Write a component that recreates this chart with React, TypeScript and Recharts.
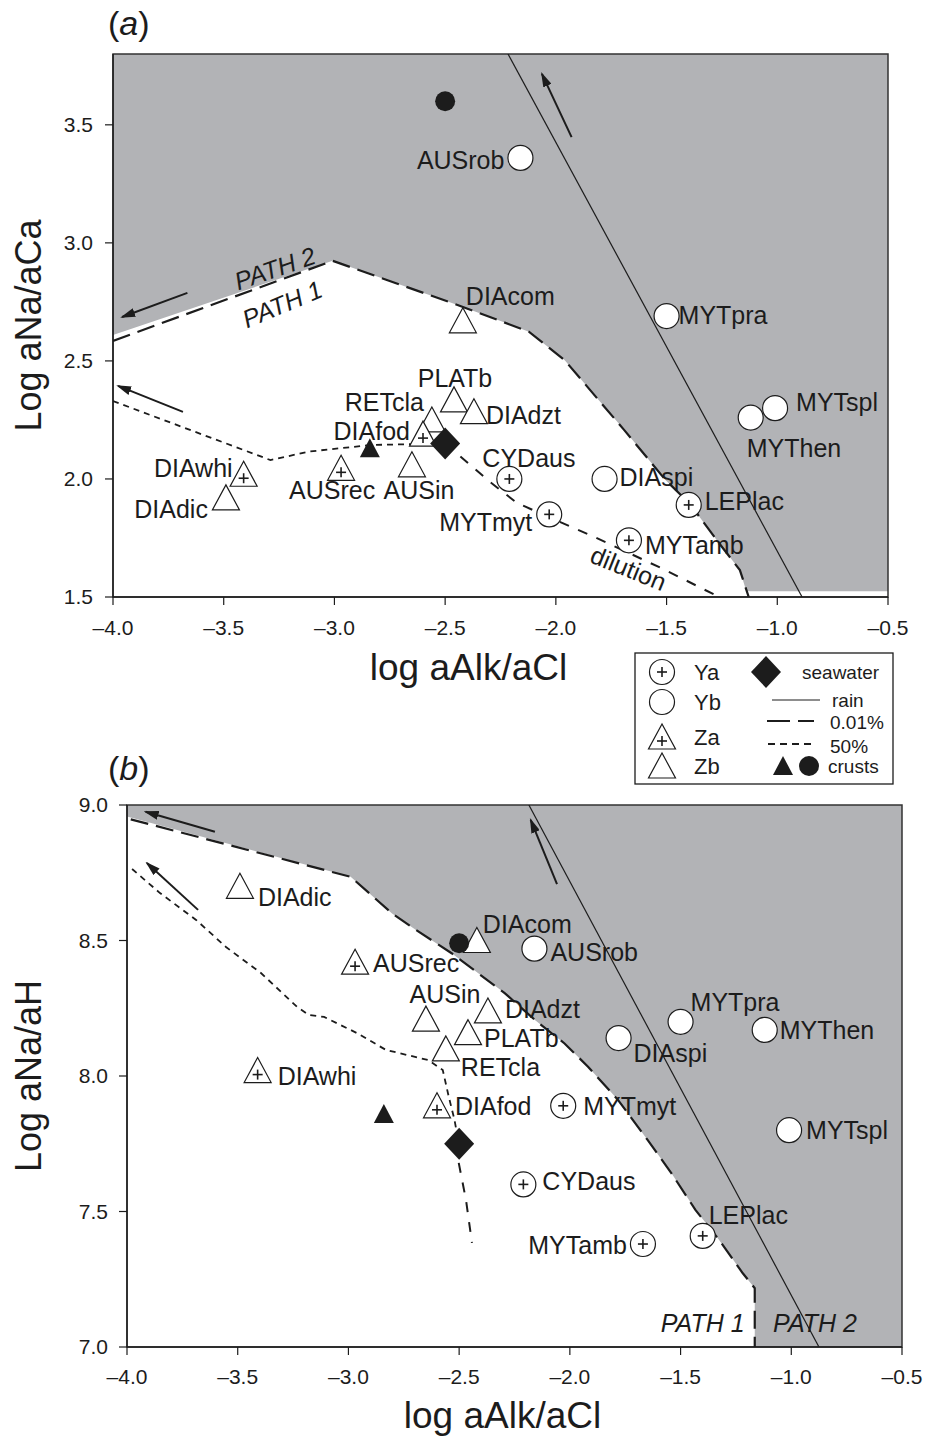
import React from 'react';
import { ComposedChart, XAxis, YAxis, Area, Line, Scatter, ReferenceArea, Label } from 'recharts';

const FONT = '"Liberation Sans", Arial, Helvetica, sans-serif';
const INK = '#1c1c1c';
const GREY = '#b2b3b6';

type Pair = [number, number];

// ---- shared axis ----
const xTicks = [-4, -3.5, -3, -2.5, -2, -1.5, -1, -0.5];
const xTickLabels = ['–4.0', '–3.5', '–3.0', '–2.5', '–2.0', '–1.5', '–1.0', '–0.5'];
const yTicksA = [1.5, 2.0, 2.5, 3.0, 3.5];
const yTickLabelsA = ['1.5', '2.0', '2.5', '3.0', '3.5'];
const yTicksB = [7.0, 7.5, 8.0, 8.5, 9.0];
const yTickLabelsB = ['7.0', '7.5', '8.0', '8.5', '9.0'];

// ---- sites ----
const sites = ['AUSrob', 'DIAcom', 'MYTpra', 'MYTspl', 'MYThen', 'PLATb', 'DIAdzt', 'RETcla', 'DIAfod',
  'AUSrec', 'AUSin', 'DIAwhi', 'DIAdic', 'CYDaus', 'MYTmyt', 'DIAspi', 'LEPlac', 'MYTamb'];
const siteGroup = ['Yb', 'Zb', 'Yb', 'Yb', 'Yb', 'Zb', 'Zb', 'Zb', 'Za',
  'Za', 'Zb', 'Za', 'Zb', 'Ya', 'Ya', 'Yb', 'Ya', 'Ya'];
const alkCl = [-2.16, -2.42, -1.50, -1.01, -1.12, -2.46, -2.37, -2.56, -2.60,
  -2.97, -2.65, -3.41, -3.49, -2.21, -2.03, -1.78, -1.40, -1.67];
const naCa = [3.36, 2.67, 2.69, 2.30, 2.26, 2.335, 2.285, 2.25, 2.19,
  2.045, 2.06, 2.02, 1.92, 2.00, 1.85, 2.00, 1.89, 1.74];
const naH = [8.47, 8.50, 8.20, 7.80, 8.17, 8.16, 8.24, 8.10, 7.89,
  8.42, 8.21, 8.02, 8.70, 7.60, 7.89, 8.14, 7.41, 7.38];

// seawater and crusts
const refKinds = ['sea', 'crustTri', 'crustDot'];
const refAlk = [-2.50, -2.84, -2.50];
const refNaCa = [2.15, 2.13, 3.60];
const refNaH = [7.75, 7.86, 8.49];

// ---- panel a curves ----
const rainA: Pair[] = [[-2.216, 3.8], [-0.888, 1.5]];
const path1A: Pair[] = [[-4.0, 2.585], [-3.008, 2.924], [-2.444, 2.737], [-2.122, 2.624], [-1.961, 2.504],
  [-1.692, 2.208], [-1.505, 1.996], [-1.397, 1.897], [-1.263, 1.728], [-1.169, 1.614], [-1.129, 1.5]];
const greyEdgeA: Pair[] = [[-4.0, 2.61], [-3.008, 2.924], [-2.444, 2.737], [-2.122, 2.624], [-1.961, 2.504],
  [-1.692, 2.208], [-1.505, 1.996], [-1.397, 1.897], [-1.263, 1.728], [-1.169, 1.614], [-1.14, 1.524], [-0.5, 1.524]];
const mix50A: Pair[] = [[-4.0, 2.33], [-3.289, 2.08], [-3.115, 2.116], [-2.833, 2.144], [-2.50, 2.15]];
const dilutionA: Pair[] = [[-2.50, 2.15], [-2.397, 2.068], [-2.297, 1.987], [-2.175, 1.898], [-2.035, 1.84],
  [-1.827, 1.755], [-1.505, 1.614], [-1.263, 1.5]];
const arrowsA: Pair[][] = [
  [[-3.664, 2.788], [-3.959, 2.686]],
  [[-3.684, 2.284], [-3.977, 2.394]],
  [[-1.929, 3.448], [-2.063, 3.716]],
];
const notesA = ['PATH 2', 'PATH 1', 'dilution'];
const noteAlkA = [-3.269, -3.236, -1.672];
const noteYA = [2.893, 2.741, 1.622];

// ---- panel b curves ----
const rainB: Pair[] = [[-2.185, 9.0], [-0.875, 7.0]];
const path1B: Pair[] = [[-3.983, 8.947], [-2.99, 8.735], [-2.803, 8.60], [-2.695, 8.539], [-2.534, 8.453],
  [-2.293, 8.305], [-2.158, 8.207], [-2.024, 8.12], [-1.918, 8.034], [-1.782, 7.911], [-1.649, 7.764],
  [-1.541, 7.641], [-1.433, 7.506], [-1.326, 7.395], [-1.219, 7.272], [-1.165, 7.217], [-1.165, 7.0]];
const greyEdgeB: Pair[] = [[-4.0, 8.958], [-2.99, 8.735], [-2.803, 8.60], [-2.695, 8.539], [-2.534, 8.453],
  [-2.293, 8.305], [-2.158, 8.207], [-2.024, 8.12], [-1.918, 8.034], [-1.782, 7.911], [-1.649, 7.764],
  [-1.541, 7.641], [-1.433, 7.506], [-1.326, 7.395], [-1.219, 7.272], [-1.165, 7.217], [-1.165, 7.0], [-0.5, 7.0]];
const mix50B: Pair[] = [[-3.977, 8.764], [-3.851, 8.675], [-3.688, 8.576], [-3.553, 8.476], [-3.395, 8.38],
  [-3.232, 8.255], [-3.178, 8.225], [-3.11, 8.218], [-2.963, 8.159], [-2.83, 8.096], [-2.64, 8.059],
  [-2.574, 8.022], [-2.547, 7.924], [-2.521, 7.838], [-2.502, 7.753]];
const dilutionB: Pair[] = [[-2.502, 7.753], [-2.502, 7.68], [-2.469, 7.542], [-2.442, 7.384]];
const arrowsB: Pair[][] = [
  [[-3.603, 8.901], [-3.916, 8.975]],
  [[-3.679, 8.613], [-3.91, 8.786]],
  [[-2.058, 8.708], [-2.177, 8.945]],
];
const notesB = ['PATH 1', 'PATH 2'];
const noteAlkB = [-1.40, -0.893];
const noteYB = [7.09, 7.09];

// label placement next to each marker: [dx, dy, anchor]
type Place = [number, number, 'start' | 'middle' | 'end'];
const placeA: Record<string, Place> = {
  AUSrob: [-16, 2, 'end'], DIAcom: [3, -25, 'start'], MYTpra: [12, -1, 'start'],
  MYTspl: [21, -6, 'start'], MYThen: [-4, 30, 'start'], PLATb: [1, -22, 'middle'],
  DIAdzt: [12, 3, 'start'], RETcla: [-8, -18, 'end'], DIAfod: [-13, -3, 'end'],
  AUSrec: [-9, 22, 'middle'], AUSin: [7, 25, 'middle'], DIAwhi: [-11, -6, 'end'],
  DIAdic: [-18, 11, 'end'], CYDaus: [-27, -21, 'start'], MYTmyt: [-17, 8, 'end'],
  DIAspi: [15, -2, 'start'], LEPlac: [16, -4, 'start'], MYTamb: [16, 5, 'start'],
};
const placeB: Record<string, Place> = {
  DIAdic: [18, 11, 'start'], DIAcom: [6, -17, 'start'], AUSrob: [16, 3, 'start'],
  AUSrec: [18, 1, 'start'], AUSin: [19, -25, 'middle'], DIAdzt: [17, -2, 'start'],
  PLATb: [16, 5, 'start'], RETcla: [15, 18, 'start'], DIAspi: [15, 15, 'start'],
  MYTpra: [10, -20, 'start'], MYThen: [15, 0, 'start'], DIAwhi: [20, 5, 'start'],
  DIAfod: [18, 0, 'start'], MYTmyt: [20, 0, 'start'], MYTspl: [17, 0, 'start'],
  CYDaus: [19, -3, 'start'], LEPlac: [6, -21, 'start'], MYTamb: [-16, 1, 'end'],
};
const noteTiltA = [-19.2, -22.9, 22];
const noteItalicA = [true, true, false];

const toXY = (pairs: Pair[]) => pairs.map(([x, y]) => ({ x, y }));

function Glyph({ kind, cx, cy }: { kind: string; cx: number; cy: number }) {
  const sw = 1.2;
  const plus = (px: number, py: number) => (
    <g stroke={INK} strokeWidth={1.6}>
      <line x1={px - 5} x2={px + 5} y1={py} y2={py} />
      <line x1={px} x2={px} y1={py - 5} y2={py + 5} />
    </g>
  );
  const tri = `${cx},${cy - 13} ${cx - 13.5},${cy + 12} ${cx + 13.5},${cy + 12}`;
  switch (kind) {
    case 'Ya':
      return <g><circle cx={cx} cy={cy} r={12.5} fill="#fff" stroke={INK} strokeWidth={sw} />{plus(cx, cy)}</g>;
    case 'Yb':
      return <circle cx={cx} cy={cy} r={12.5} fill="#fff" stroke={INK} strokeWidth={sw} />;
    case 'Za':
      return <g><polygon points={tri} fill="#fff" stroke={INK} strokeWidth={sw} />{plus(cx, cy + 4)}</g>;
    case 'Zb':
      return <polygon points={tri} fill="#fff" stroke={INK} strokeWidth={sw} />;
    case 'sea':
      return <polygon points={`${cx},${cy - 16} ${cx + 15},${cy} ${cx},${cy + 16} ${cx - 15},${cy}`} fill={INK} />;
    case 'crustTri':
      return <polygon points={`${cx},${cy - 10} ${cx - 10},${cy + 9} ${cx + 10},${cy + 9}`} fill={INK} />;
    case 'crustDot':
      return <circle cx={cx} cy={cy} r={10} fill={INK} />;
    default:
      return null;
  }
}

const siteShape = (place: Record<string, Place>) => (props: any) => {
  const { cx, cy, payload } = props;
  const [dx, dy, anchor] = place[payload.name];
  return (
    <g>
      <Glyph kind={payload.group} cx={cx} cy={cy} />
      <text x={cx + dx} y={cy + dy} textAnchor={anchor} dominantBaseline="central"
        fontSize={25} fill={INK} fontFamily={FONT}>{payload.name}</text>
    </g>
  );
};

const refShape = (props: any) => <Glyph kind={props.payload.kind} cx={props.cx} cy={props.cy} />;

const noteShape = (tilts: number[], italics: boolean[]) => (props: any) => {
  const { cx, cy, payload } = props;
  const t = tilts[payload.i] || 0;
  return (
    <text x={cx} y={cy} textAnchor="middle" dominantBaseline="central" fontSize={25}
      fontStyle={italics[payload.i] ? 'italic' : 'normal'} fill={INK} fontFamily={FONT}
      transform={`rotate(${t} ${cx} ${cy})`}>{payload.text}</text>
  );
};

type PanelProps = {
  height: number;
  margin: { top: number; right: number; bottom: number; left: number };
  yDomain: [number, number];
  yTicks: number[];
  yTickLabels: string[];
  yTitle: string;
  xTickMargin: number;
  yTickMargin: number;
  xTitleShift: number;
  xTitleDrop: number;
  yTitleShift: number;
  siteY: number[];
  refY: number[];
  rain: Pair[];
  path1: Pair[];
  greyEdge: Pair[];
  mix50: Pair[];
  dilution: Pair[];
  arrows: Pair[][];
  notes: string[];
  noteX: number[];
  noteY: number[];
  tilts: number[];
  italics: boolean[];
  place: Record<string, Place>;
};

function Panel(p: PanelProps) {
  const [y0, y1] = p.yDomain;
  const band = p.greyEdge.map(([x, low]) => ({ x, band: [low, y1] }));
  const pts = sites.map((name, i) => ({ name, group: siteGroup[i], x: alkCl[i], y: p.siteY[i] }));
  const refs = refKinds.map((kind, i) => ({ kind, x: refAlk[i], y: p.refY[i] }));
  const notes = p.notes.map((text, i) => ({ text, i, x: p.noteX[i], y: p.noteY[i] }));
  const tickStyle = { fontSize: 21, fill: INK, fontFamily: FONT };
  return (
    <ComposedChart width={929} height={p.height} margin={p.margin}>
      <XAxis type="number" dataKey="x" domain={[-4, -0.5]} ticks={xTicks} allowDataOverflow
        tickFormatter={(v: number) => xTickLabels[xTicks.indexOf(v)]} tickSize={8} tickMargin={p.xTickMargin}
        height={40} axisLine={{ stroke: INK, strokeWidth: 1.4 }} tickLine={{ stroke: INK, strokeWidth: 1.2 }}
        tick={tickStyle} interval={0}>
        <Label content={(lp: any) => {
          const vb = lp.viewBox;
          return (
            <text x={vb.x + vb.width / 2 + p.xTitleShift} y={vb.y + p.xTitleDrop} textAnchor="middle"
              fontSize={37} fill={INK} fontFamily={FONT}>log aAlk/aCl</text>
          );
        }} />
      </XAxis>
      <YAxis type="number" dataKey="y" domain={p.yDomain} ticks={p.yTicks} allowDataOverflow
        tickFormatter={(v: number) => p.yTickLabels[p.yTicks.indexOf(v)]} tickSize={8} tickMargin={p.yTickMargin}
        width={60} axisLine={{ stroke: INK, strokeWidth: 1.4 }} tickLine={{ stroke: INK, strokeWidth: 1.2 }}
        tick={tickStyle} interval={0}>
        <Label content={(lp: any) => {
          const vb = lp.viewBox;
          const tx = vb.x + p.yTitleShift;
          const ty = vb.y + vb.height / 2;
          return (
            <text x={tx} y={ty} textAnchor="middle" transform={`rotate(-90 ${tx} ${ty})`}
              fontSize={36} fill={INK} fontFamily={FONT}>{p.yTitle}</text>
          );
        }} />
      </YAxis>
      <Area data={band} dataKey="band" type="linear" stroke="none" fill={GREY} fillOpacity={1}
        isAnimationActive={false} dot={false} activeDot={false} />
      <ReferenceArea x1={-4} x2={-0.5} y1={y0} y2={y1} fill="none" stroke="#333" strokeWidth={1.5} />
      <Line data={toXY(p.rain)} dataKey="y" type="linear" stroke={INK} strokeWidth={1.2} dot={false}
        activeDot={false} isAnimationActive={false} />
      <Line data={toXY(p.path1)} dataKey="y" type="linear" stroke={INK} strokeWidth={2.2} strokeDasharray="18 8"
        dot={false} activeDot={false} isAnimationActive={false} />
      <Line data={toXY(p.mix50)} dataKey="y" type="linear" stroke={INK} strokeWidth={1.8} strokeDasharray="6 5"
        dot={false} activeDot={false} isAnimationActive={false} />
      <Line data={toXY(p.dilution)} dataKey="y" type="linear" stroke={INK} strokeWidth={2} strokeDasharray="10 10"
        dot={false} activeDot={false} isAnimationActive={false} />
      {p.arrows.map((a, i) => (
        <Line key={`arrow-${i}`} data={toXY(a)} dataKey="y" type="linear" stroke={INK} strokeWidth={2}
          markerEnd="url(#arrowHead)" dot={false} activeDot={false} isAnimationActive={false} />
      ))}
      <Scatter data={notes} shape={noteShape(p.tilts, p.italics)} isAnimationActive={false} />
      <Scatter data={pts} shape={siteShape(p.place)} isAnimationActive={false} />
      <Scatter data={refs} shape={refShape} isAnimationActive={false} />
    </ComposedChart>
  );
}

const keyGroups = ['Ya', 'Yb', 'Za', 'Zb'];

function KeyBox() {
  const rows = [19, 49, 84, 113];
  return (
    <g transform="translate(635,653)" fontFamily={FONT} fill={INK}>
      <rect x={0} y={0} width={258} height={131} fill="#fff" stroke={INK} strokeWidth={1.3} />
      {keyGroups.map((g, i) => (
        <g key={g}>
          <Glyph kind={g} cx={27} cy={rows[i]} />
          <text x={59} y={rows[i]} dominantBaseline="central" fontSize={22}>{g}</text>
        </g>
      ))}
      <Glyph kind="sea" cx={131} cy={19} />
      <text x={167} y={19} dominantBaseline="central" fontSize={19}>seawater</text>
      <line x1={137} x2={185} y1={47} y2={47} stroke={INK} strokeWidth={1.2} />
      <text x={197} y={47} dominantBaseline="central" fontSize={19}>rain</text>
      <line x1={132} x2={179} y1={68} y2={68} stroke={INK} strokeWidth={2.2} strokeDasharray="23 8" />
      <text x={195} y={69} dominantBaseline="central" fontSize={19}>0.01%</text>
      <line x1={133} x2={177} y1={91} y2={91} stroke={INK} strokeWidth={1.8} strokeDasharray="7 5" />
      <text x={195} y={93} dominantBaseline="central" fontSize={19}>50%</text>
      <Glyph kind="crustTri" cx={148} cy={113} />
      <Glyph kind="crustDot" cx={174} cy={113} />
      <text x={193} y={113} dominantBaseline="central" fontSize={19}>crusts</text>
    </g>
  );
}

export default function App() {
  return (
    <div style={{ position: 'absolute', left: 0, top: 0, width: 929, height: 1443, background: '#fff', fontFamily: FONT }}>
      <div style={{ position: 'absolute', left: 0, top: 0 }}>
        <Panel height={700} margin={{ top: 54, right: 41, bottom: 63, left: 53 }} yDomain={[1.5, 3.8]}
          yTicks={yTicksA} yTickLabels={yTickLabelsA} yTitle="Log aNa/aCa" xTickMargin={15} yTickMargin={12}
          xTitleShift={-32} xTitleDrop={83} yTitleShift={-12} siteY={naCa} refY={refNaCa}
          rain={rainA} path1={path1A} greyEdge={greyEdgeA} mix50={mix50A} dilution={dilutionA} arrows={arrowsA}
          notes={notesA} noteX={noteAlkA} noteY={noteYA} tilts={noteTiltA} italics={noteItalicA} place={placeA} />
      </div>
      <div style={{ position: 'absolute', left: 0, top: 700 }}>
        <Panel height={743} margin={{ top: 105, right: 27, bottom: 56, left: 67 }} yDomain={[7, 9]}
          yTicks={yTicksB} yTickLabels={yTickLabelsB} yTitle="Log aNa/aH" xTickMargin={14} yTickMargin={11}
          xTitleShift={-12} xTitleDrop={81} yTitleShift={-26} siteY={naH} refY={refNaH}
          rain={rainB} path1={path1B} greyEdge={greyEdgeB} mix50={mix50B} dilution={dilutionB} arrows={arrowsB}
          notes={notesB} noteX={noteAlkB} noteY={noteYB} tilts={[0, 0]} italics={[true, true]} place={placeB} />
      </div>
      <svg width={929} height={1443} style={{ position: 'absolute', left: 0, top: 0, pointerEvents: 'none' }}>
        <defs>
          <marker id="arrowHead" viewBox="0 0 15 9" refX={13} refY={4.5} markerWidth={15} markerHeight={9}
            markerUnits="userSpaceOnUse" orient="auto">
            <path d="M0,0 L15,4.5 L0,9 z" fill={INK} />
          </marker>
        </defs>
        <text x={108} y={35} fontSize={34} fill={INK} fontFamily={FONT}>(<tspan fontStyle="italic">a</tspan>)</text>
        <text x={108} y={780} fontSize={34} fill={INK} fontFamily={FONT}>(<tspan fontStyle="italic">b</tspan>)</text>
        <KeyBox />
      </svg>
    </div>
  );
}
